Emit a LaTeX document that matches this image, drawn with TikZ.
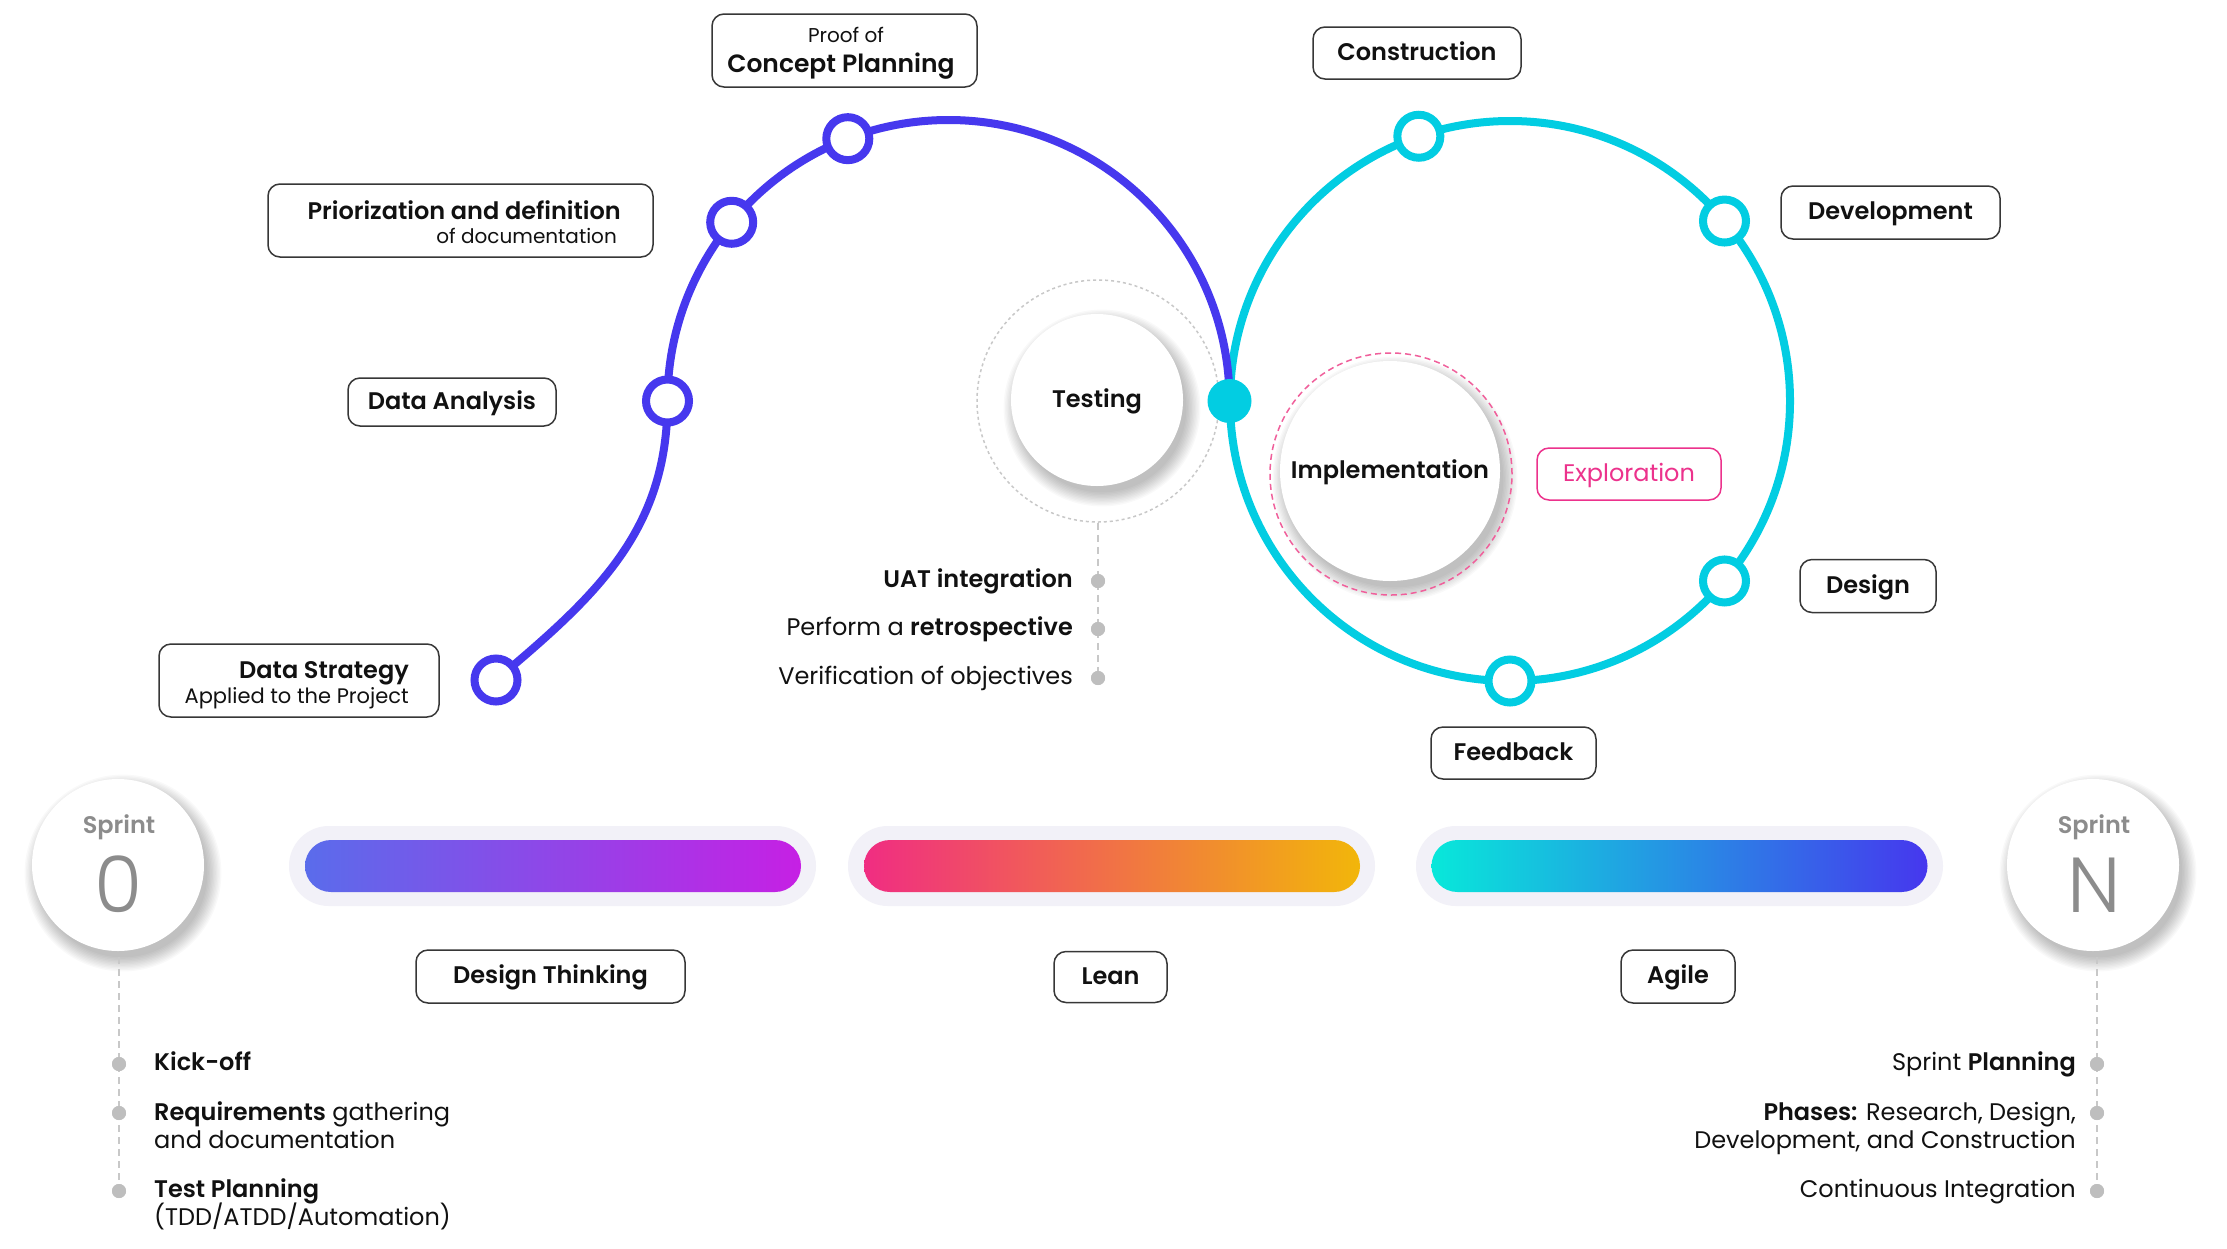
\documentclass[tikz,border=0pt]{standalone}
\usepackage{fontspec}
\setmainfont{Poppins}[BoldFont={Poppins SemiBold}]
\newfontfamily\lightfont{Poppins Light}
\usetikzlibrary{calc}
\definecolor{purp}{RGB}{70,56,238}
\definecolor{tealc}{RGB}{2,205,226}
\definecolor{pinkc}{RGB}{236,50,140}
\definecolor{pinkdash}{RGB}{240,95,155}
\definecolor{boxline}{RGB}{55,55,55}
\definecolor{dotg}{RGB}{190,190,190}
\definecolor{dashg}{RGB}{200,200,200}
\definecolor{sprintg}{RGB}{140,140,140}
\definecolor{barbg}{RGB}{242,241,248}
\definecolor{ink}{RGB}{17,17,17}
\definecolor{ga}{RGB}{90,108,235}
\definecolor{gb}{RGB}{198,32,228}
\definecolor{gc}{RGB}{240,45,130}
\definecolor{gd}{RGB}{242,182,10}
\definecolor{ge}{RGB}{8,232,218}
\definecolor{gf}{RGB}{70,55,238}
\newcommand\myfs[1]{\fontsize{#1}{#1}\selectfont}
\begin{document}
\begin{tikzpicture}[x=1pt,y=-1pt,
  purpline/.style={draw=purp, line width=8pt},
  tealline/.style={draw=tealc, line width=8pt},
  pnode/.style={circle, draw=purp, line width=8pt, fill=white, minimum size=43pt, inner sep=0pt},
  tnode/.style={circle, draw=tealc, line width=8pt, fill=white, minimum size=43pt, inner sep=0pt},
  lbl/.style={draw=boxline, line width=1.5pt, rounded corners=12pt, fill=white, inner sep=0pt, text height=17pt, text depth=3pt, text=ink, font=\myfs{24}\bfseries},
  dotn/.style={circle, fill=dotg, minimum size=14pt, inner sep=0pt},
  gdash/.style={draw=dashg, line width=1.5pt, dash pattern=on 7pt off 5pt},
  txt/.style={inner sep=0pt, font=\myfs{24}, text=ink},
  shadowring/.style={fill=black, opacity=0.022},
  barback/.style={fill=barbg, rounded corners=39.9pt, minimum width=527pt, minimum height=80pt, inner sep=0pt},
  barfront/.style={rounded corners=25.9pt, minimum width=496pt, minimum height=52pt, inner sep=0pt},
]
\fill[white] (0,0) rectangle (2227,1248);
\useasboundingbox (0,0) rectangle (2227,1248);

% ---------- geometry ----------
\coordinate (pc) at (948.5,401);
\coordinate (tc) at (1510,401);
\coordinate (jc) at (1229.5,401);
\coordinate (pA) at ($(pc)+(-111:281)$);
\coordinate (pB) at ($(pc)+(-140.5:281)$);
\coordinate (pC) at (667.5,401);
\coordinate (pD) at (496,680);
\coordinate (tA) at ($(tc)+(-109:280)$);
\coordinate (tB) at ($(tc)+(-40:280)$);
\coordinate (tC) at ($(tc)+(40:280)$);
\coordinate (tD) at ($(tc)+(90:280)$);
\coordinate (cTest) at (1097,400);
\coordinate (cImpl) at (1390,471);
\coordinate (cS0) at (118,865);
\coordinate (cSN) at (2093,865);

% ---------- soft shadows ----------
\foreach \k in {1,...,11}{
  \fill[shadowring] ($(cTest)+(5,8)$) circle[radius={86-3+1.4*\k}];
  \fill[shadowring] ($(cImpl)+(5,8)$) circle[radius={110-3+1.4*\k}];
  \fill[shadowring] ($(cS0)+(5,8)$) circle[radius={86-3+1.4*\k}];
  \fill[shadowring] ($(cSN)+(5,8)$) circle[radius={86-3+1.4*\k}];
}

% ---------- Testing ----------
\node[circle, gdash, dashed, minimum size=242pt, inner sep=0pt] (testRing) at (1098,401) {};
\node[circle, fill=white, minimum size=172pt, inner sep=0pt, text height=17pt, text depth=3pt, text=ink, font=\myfs{24}\bfseries] (testing) at (cTest) {Testing};

% ---------- Implementation ----------
\node[circle, fill=white, minimum size=220pt, inner sep=0pt, text height=17pt, text depth=3pt, text=ink, font=\myfs{24}\bfseries] (impl) at (cImpl) {Implementation};
\node[circle, draw=pinkdash, line width=1.5pt, dash pattern=on 6pt off 4pt, minimum size=242pt, inner sep=0pt] (implRing) at (1391,474) {};

% ---------- arcs ----------
\draw[tealline] (tc) circle[radius=280];
\draw[purpline] (jc) arc[start angle=0, end angle=-180, radius=281] .. controls (667.5,531) and (596,596) .. (pD);

% ---------- arc nodes ----------
\node[pnode] (nProof) at (pA) {};
\node[pnode] (nPrior) at (pB) {};
\node[pnode] (nData) at (pC) {};
\node[pnode] (nStrat) at (pD) {};
\node[tnode] (nConstr) at (tA) {};
\node[tnode] (nDev) at (tB) {};
\node[tnode] (nDesign) at (tC) {};
\node[tnode] (nFeed) at (tD) {};
\node[circle, fill=tealc, minimum size=44pt, inner sep=0pt] (junction) at (jc) {};

% ---------- label boxes ----------
\node[lbl, minimum width=265pt, minimum height=73pt] (bProof) at (844.5,50.5) {};
\node[txt, anchor=base, font=\myfs{20}] (tProof1) at (846,42) {Proof of};
\node[txt, anchor=base, font=\myfs{25}\bfseries] (tProof2) at (841,72) {Concept Planning};

\node[lbl, minimum width=385pt, minimum height=73pt] (bPrior) at (460.5,220.5) {};
\node[txt, anchor=base east, font=\myfs{24}\bfseries] (tPrior1) at (621,219) {Priorization and definition};
\node[txt, anchor=base east, font=\myfs{20}] (tPrior2) at (617,243.5) {of documentation};

\node[lbl, minimum width=280pt, minimum height=73pt] (bStrat) at (299,680.5) {};
\node[txt, anchor=base east, font=\myfs{24}\bfseries] (tStrat1) at (409,678) {Data Strategy};
\node[txt, anchor=base east, font=\myfs{21}] (tStrat2) at (409,703) {Applied to the Project};

\node[lbl, minimum width=208pt, minimum height=48pt] (bData) at (452,402) {Data Analysis};
\node[lbl, minimum width=208pt, minimum height=52pt] (bConstr) at (1417,53) {Construction};
\node[lbl, minimum width=219pt, minimum height=53pt] (bDev) at (1890.5,212.5) {Development};
\node[lbl, minimum width=136pt, minimum height=53pt] (bDesign) at (1868,586) {Design};
\node[lbl, minimum width=165pt, minimum height=52pt] (bFeed) at (1513.5,753) {Feedback};
\node[lbl, draw=pinkc, text=pinkc, font=\myfs{24}, minimum width=184pt, minimum height=52pt] (bExpl) at (1629,474) {Exploration};
\node[lbl, minimum width=269pt, minimum height=53pt] (bDT) at (550.5,976.5) {Design Thinking};
\node[lbl, minimum width=113pt, minimum height=51pt] (bLean) at (1110.5,977) {Lean};
\node[lbl, minimum width=114pt, minimum height=53pt] (bAgile) at (1678,976.5) {Agile};

% ---------- testing list ----------
\node[dotn] (dU1) at (1098,581) {};
\node[dotn] (dU2) at (1098,629) {};
\node[dotn] (dU3) at (1098,678) {};
\draw[gdash] (testRing.south) -- (dU3.center);
\node[dotn] at (dU1) {};
\node[dotn] at (dU2) {};
\node[dotn] at (dU3) {};
\node[txt, anchor=base east] (tU1) at (1073,587) {\textbf{UAT integration}};
\node[txt, anchor=base east] (tU2) at (1073,635) {Perform a \textbf{retrospective}};
\node[txt, anchor=base east] (tU3) at (1073,684) {Verification of objectives};

% ---------- bars ----------
\node[barback] (bg1) at (552.5,866) {};
\node[barfront, left color=ga, right color=gb] (bar1) at (553,866) {};
\node[barback] (bg2) at (1111.5,866) {};
\node[barfront, left color=gc, right color=gd] (bar2) at (1112,866) {};
\node[barback] (bg3) at (1679.5,866) {};
\node[barfront, left color=ge, right color=gf] (bar3) at (1679.5,866) {};

% ---------- sprint 0 ----------
\node[circle, fill=white, minimum size=172pt, inner sep=0pt] (s0) at (cS0) {};
\node[txt, anchor=base, text=sprintg, font=\myfs{24}\bfseries] (s0a) at (119,833) {Sprint};
\node[txt, anchor=base, text=sprintg, font=\myfs{78}\lightfont] (s0b) at (119,912) {0};
\node[dotn] (dK1) at (119,1064) {};
\node[dotn] (dK2) at (119,1113) {};
\node[dotn] (dK3) at (119,1191) {};
\draw[gdash] (s0.south -| dK1) ++(0,6) -- (dK3.center);
\node[dotn] at (dK1) {};
\node[dotn] at (dK2) {};
\node[dotn] at (dK3) {};
\node[txt, anchor=base west] (tK1) at (154,1070) {\textbf{Kick-off}};
\node[txt, anchor=base west] (tK2) at (154,1120) {\textbf{Requirements} gathering};
\node[txt, anchor=base west] (tK2b) at (154,1148) {and documentation};
\node[txt, anchor=base west] (tK3) at (154,1197) {\textbf{Test Planning}};
\node[txt, anchor=base west] (tK3b) at (154,1225) {(TDD/ATDD/Automation)};

% ---------- sprint N ----------
\node[circle, fill=white, minimum size=172pt, inner sep=0pt] (sN) at (cSN) {};
\node[txt, anchor=base, text=sprintg, font=\myfs{24}\bfseries] (sNa) at (2094,833) {Sprint};
\node[txt, anchor=base, text=sprintg, font=\myfs{78}\lightfont] (sNb) at (2094,912) {N};
\node[dotn] (dP1) at (2097,1064) {};
\node[dotn] (dP2) at (2097,1113) {};
\node[dotn] (dP3) at (2097,1191) {};
\draw[gdash] (sN.south -| dP1) ++(0,6) -- (dP3.center);
\node[dotn] at (dP1) {};
\node[dotn] at (dP2) {};
\node[dotn] at (dP3) {};
\node[txt, anchor=base east] (tP1) at (2076,1070) {Sprint \textbf{Planning}};
\node[txt, anchor=base east] (tP2) at (2076,1120) {\textbf{Phases:} Research, Design,};
\node[txt, anchor=base east] (tP2b) at (2076,1148) {Development, and Construction};
\node[txt, anchor=base east] (tP3) at (2076,1197) {Continuous Integration};
\end{tikzpicture}
\end{document}
